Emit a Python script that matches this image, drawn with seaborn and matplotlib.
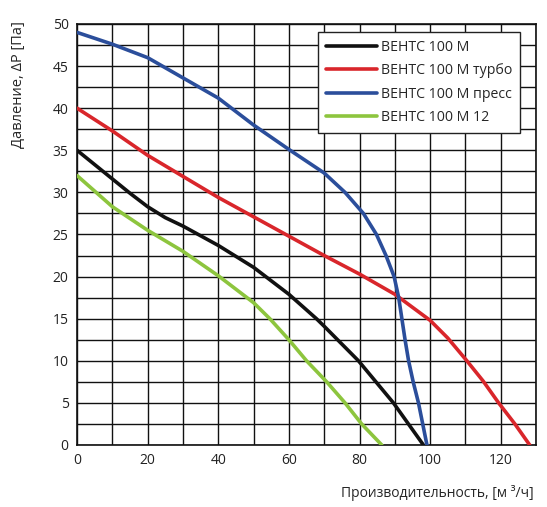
import numpy as np
import pandas as pd
import seaborn as sns
import matplotlib.pyplot as plt

# данные
series_names = ['ВЕНТС 100 М', 'ВЕНТС 100 М турбо', 'ВЕНТС 100 М пресс', 'ВЕНТС 100 М 12']
series_colors = ['#111111', '#d9262b', '#2b4e9b', '#8dc53e']

black_x = [0, 10, 15, 20, 25, 30, 40, 50, 60, 67.8, 70, 79.7, 89.6, 98.1]
black_y = [35, 31.6, 29.9, 28.3, 27.0, 26.0, 23.7, 21.1, 17.9, 15, 14.1, 10, 5, 0]

red_x = [0, 10, 20, 30, 40, 50, 60, 70, 80, 90, 100, 105, 110.4, 115, 119.4, 124, 128.2]
red_y = [40, 37.3, 34.4, 31.9, 29.4, 27.1, 24.8, 22.5, 20.3, 17.9, 14.8, 12.7, 10, 7.6, 5, 2.5, 0]

blue_x = [0, 10, 20, 30, 40, 50, 60, 70, 75.9, 81.1, 84.8, 87.5, 89.8, 91.1, 92, 92.9, 93.9, 95.2, 96.7, 99.1]
blue_y = [49, 47.6, 46.0, 43.6, 41.2, 38.0, 35.1, 32.3, 30, 27.5, 25, 22.5, 20, 17.5, 15, 12.5, 10, 7.5, 5, 0]

green_x = [0, 10, 20, 30, 40, 50, 54.6, 60, 65, 70.7, 75.9, 80.6, 86.3]
green_y = [32, 28.3, 25.5, 23.0, 20.1, 16.9, 15, 12.5, 10, 7.5, 5, 2.5, 0]

x_ticks = [0, 20, 40, 60, 80, 100, 120]
y_ticks = [0, 5, 10, 15, 20, 25, 30, 35, 40, 45, 50]

frames = []
for name, xs, ys in zip(series_names, [black_x, red_x, blue_x, green_x], [black_y, red_y, blue_y, green_y]):
    frames.append(pd.DataFrame({'Q': xs, 'P': ys, 'serie': name}))
df = pd.concat(frames, ignore_index=True)

sns.set_style('white')
plt.rcParams['font.family'] = ['Open Sans', 'DejaVu Sans']

fig = plt.figure(figsize=(5.47, 5.07), dpi=100)
ax = fig.add_axes([0.1408, 0.1223, 0.8392, 0.8304])

# сетка
for gx in np.arange(0, 131, 10):
    ax.axvline(gx, color='#111111', lw=1.0, zorder=1)
for gy in np.arange(0, 50.1, 2.5):
    ax.axhline(gy, color='#111111', lw=1.0, zorder=1)

sns.lineplot(data=df, x='Q', y='P', hue='serie', hue_order=series_names,
             palette=dict(zip(series_names, series_colors)), sort=False,
             estimator=None, units='serie', linewidth=2.6, ax=ax, zorder=3)

ax.set_xlim(0, 130)
ax.set_ylim(0, 50)
ax.set_xticks(x_ticks)
ax.set_yticks(y_ticks)
ax.tick_params(axis='both', labelsize=10, direction='inout', length=6, width=1, colors='#222222', pad=3)
for s in ax.spines.values():
    s.set_color('#111111')
    s.set_linewidth(1.2)

ax.set_ylabel('Давление, ΔР [Па]', fontsize=10.5)
ax.yaxis.set_label_coords(-0.112, 0.855)
ax.set_xlabel('Производительность, [м ³/ч]', fontsize=10)
ax.xaxis.set_label_coords(0.995, -0.095)
ax.xaxis.label.set_horizontalalignment('right')

leg = ax.legend(loc='upper right', bbox_to_anchor=(0.965, 0.981), borderaxespad=0, fontsize=10.2,
                handlelength=3.6, handletextpad=0.3, borderpad=0.55, labelspacing=0.6,
                fancybox=False, framealpha=1, edgecolor='#222222', title=None)
leg.get_frame().set_linewidth(1.0)

plt.savefig('out.png', dpi=100)
plt.close()
